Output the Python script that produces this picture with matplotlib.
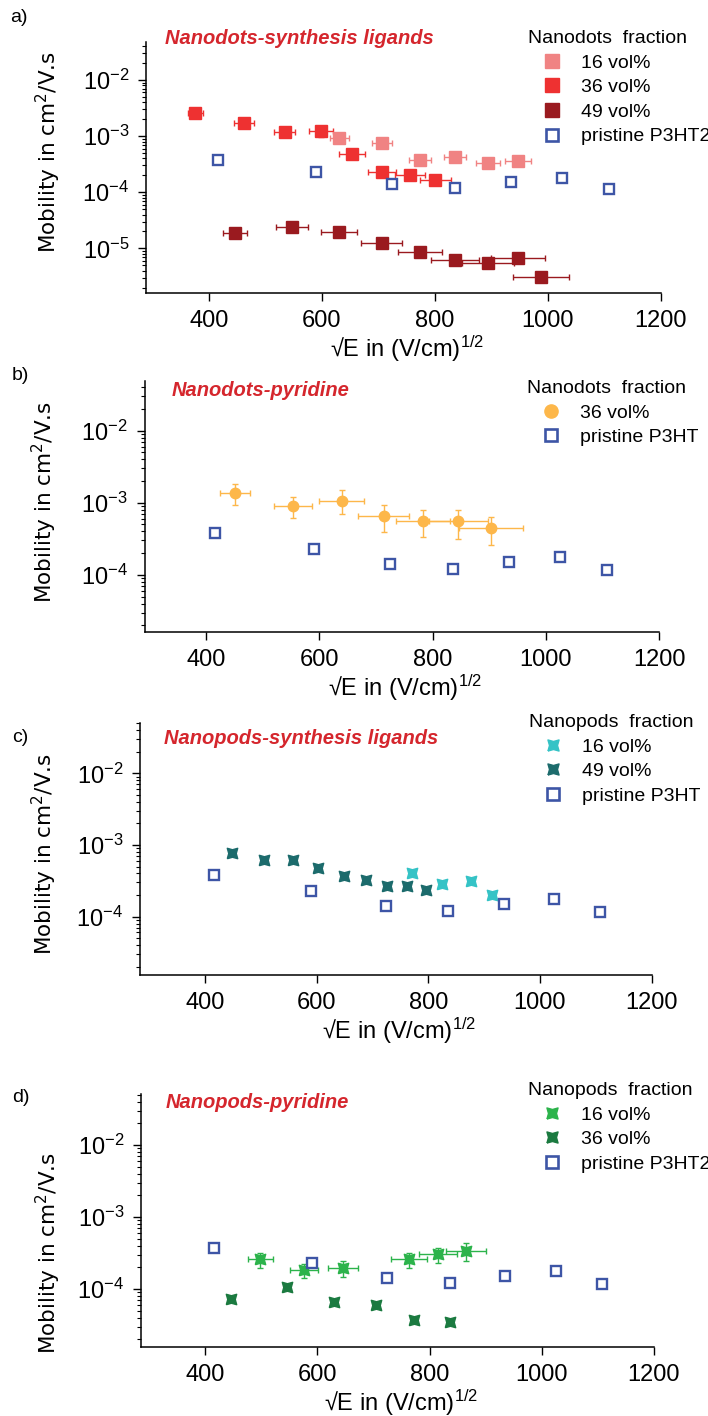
import matplotlib
matplotlib.use("Agg")
import matplotlib.pyplot as plt
from matplotlib.lines import Line2D

plt.rcParams['font.family'] = ['Liberation Sans', 'DejaVu Sans']
plt.rcParams['mathtext.default'] = 'regular'

W, H = 708, 1416

# pristine P3HT reference, same in all four panels
pristine_x = [416, 590, 724, 836, 935, 1025, 1108]
pristine_y = [3.75e-4, 2.29e-4, 1.42e-4, 1.2e-4, 1.52e-4, 1.77e-4, 1.16e-4]

# a) nanodots, synthesis ligands
a16_x = [631, 706, 774, 836, 894, 948]
a16_y = [9.4e-4, 7.4e-4, 3.75e-4, 4.3e-4, 3.36e-4, 3.65e-4]
a16_xerr = [17, 18, 19, 20, 21, 23]
a36_x = [376, 462, 534, 598, 654, 706, 756, 801]
a36_y = [2.55e-3, 1.69e-3, 1.2e-3, 1.23e-3, 4.73e-4, 2.32e-4, 2.05e-4, 1.65e-4]
a36_ylo = [2.3e-3, 1.5e-3, 1.07e-3, 9.8e-4, 4.2e-4, 2.1e-4, 1.85e-4, 1.5e-4]
a36_yhi = [2.85e-3, 1.9e-3, 1.35e-3, 1.4e-3, 5.3e-4, 2.55e-4, 2.25e-4, 1.8e-4]
a36_xerr = [14, 17, 19, 21, 23, 25, 27, 28]
a49_x = [446, 547, 631, 706, 774, 836, 894, 948, 988]
a49_y = [1.85e-5, 2.43e-5, 1.98e-5, 1.26e-5, 8.7e-6, 6.2e-6, 5.4e-6, 6.6e-6, 3.1e-6]
a49_ylo = [1.5e-5, 2.0e-5, 1.65e-5, 1.05e-5, 7.2e-6, 5.1e-6, 4.5e-6, 5.5e-6, 2.6e-6]
a49_yhi = [2.2e-5, 2.9e-5, 2.35e-5, 1.5e-5, 1.05e-5, 7.5e-6, 6.5e-6, 7.9e-6, 3.6e-6]
a49_xerr = [22, 28, 32, 36, 39, 42, 46, 48, 49]

# b) nanodots, pyridine
b36_x = [451, 553, 639, 714, 783, 845, 903]
b36_y = [1.35e-3, 9.1e-4, 1.07e-3, 6.6e-4, 5.5e-4, 5.6e-4, 4.5e-4]
b36_ylo = [9.2e-4, 6.1e-4, 6.9e-4, 3.9e-4, 3.3e-4, 3.1e-4, 2.6e-4]
b36_yhi = [1.79e-3, 1.2e-3, 1.48e-3, 9.4e-4, 7.8e-4, 8.0e-4, 6.4e-4]
b36_xerr = [27, 34, 39, 45, 48, 52, 56]

# c) nanopods, synthesis ligands
c16_x = [771, 825, 876, 914]
c16_y = [4.0e-4, 2.83e-4, 3.15e-4, 2.0e-4]
c49_x = [448, 505, 558, 603, 649, 688, 726, 761, 795]
c49_y = [7.65e-4, 6.18e-4, 6.1e-4, 4.83e-4, 3.73e-4, 3.21e-4, 2.71e-4, 2.68e-4, 2.35e-4]

# d) nanopods, pyridine
d16_x = [498, 576, 645, 763, 815, 865]
d16_y = [2.61e-4, 1.84e-4, 1.98e-4, 2.64e-4, 3.06e-4, 3.37e-4]
d16_ylo = [1.98e-4, 1.41e-4, 1.48e-4, 1.98e-4, 2.3e-4, 2.48e-4]
d16_yhi = [3.2e-4, 2.2e-4, 2.45e-4, 3.2e-4, 3.75e-4, 4.3e-4]
d16_xerr = [22, 25, 27, 32, 34, 36]
d36_x = [446, 546, 630, 705, 773, 836]
d36_y = [7.3e-5, 1.05e-4, 6.5e-5, 6.0e-5, 3.7e-5, 3.5e-5]

blue = '#3d55a6'
red_title = '#d5262d'
# hourglass-ish marker (square with pinched sides)
k = 0.72
pod = [(-1, -1), (0, -k), (1, -1), (k, 0), (1, 1), (0, k), (-1, 1), (-k, 0), (-1, -1)]

fig = plt.figure(figsize=(W / 100, H / 100), dpi=100)


def yerr(y, lo, hi):
    return [[a - b for a, b in zip(y, lo)], [b - a for a, b in zip(y, hi)]]


def make_ax(l, r, t, b, xlim, ylim):
    ax = fig.add_axes([l / W, 1 - b / H, (r - l) / W, (b - t) / H])
    ax.set_yscale('log')
    ax.set_xlim(*xlim)
    ax.set_ylim(*ylim)
    ax.set_xticks([400, 600, 800, 1000, 1200])
    ax.spines['top'].set_visible(False)
    ax.spines['right'].set_visible(False)
    for s in ['left', 'bottom']:
        ax.spines[s].set_linewidth(1.1)
    ax.tick_params(which='major', length=6, width=1.0, labelsize=17, pad=6)
    ax.tick_params(which='minor', length=3, width=0.8)
    ax.set_ylabel('Mobility in cm$^{2}$/V.s', fontsize=15.5, family='DejaVu Sans')
    ax.set_xlabel('√E in (V/cm)$^{1/2}$', fontsize=17)
    ax.plot(pristine_x, pristine_y, ls='none', marker='s', ms=6.8, mfc='white',
            mec=blue, mew=1.7, zorder=4)
    return ax


def legend(ax, x0, ytop, title, entries):
    handles = [Line2D([], [], ls='none', **kw) for kw in entries]
    labs = [h.get_label() for h in handles]
    ax.legend(handles, labs, title=title, loc='upper left',
              bbox_to_anchor=(x0 / W, 1 - ytop / H), bbox_transform=fig.transFigure,
              frameon=False, fontsize=14, title_fontsize=14, alignment='left',
              borderpad=0, borderaxespad=0, handlelength=2.5, handletextpad=0.25,
              labelspacing=0.36)


def title(x, y, s):
    fig.text(x / W, 1 - y / H, s, color=red_title, fontsize=14.5,
             fontweight='bold', fontstyle='italic', va='center')


def letter(x, y, s):
    fig.text(x / W, 1 - y / H, s, fontsize=14, va='center')


pristine_entry = dict(marker='s', ms=8, mfc='white', mec=blue, mew=1.9)

# ---------- a ----------
ax = make_ax(145.8, 660.5, 41.7, 293.3, (288, 1200), (1.58e-6, 0.048))
c16a, c36a, c49a = '#f08383', '#ee3131', '#9a1a1f'
ax.errorbar(a16_x, a16_y, xerr=a16_xerr, fmt='s', color=c16a, ms=8,
            elinewidth=1, capsize=2, zorder=3)
ax.errorbar(a36_x, a36_y, xerr=a36_xerr, yerr=yerr(a36_y, a36_ylo, a36_yhi),
            fmt='s', color=c36a, ms=8, elinewidth=1, capsize=2, zorder=3)
ax.errorbar(a49_x, a49_y, xerr=a49_xerr, yerr=yerr(a49_y, a49_ylo, a49_yhi),
            fmt='s', color=c49a, ms=8, elinewidth=1, capsize=2, zorder=3)
ax.yaxis.set_label_coords(-0.161, 0.56)
ax.xaxis.set_label_coords(0.507, -0.16)
legend(ax, 528, 30, 'Nanodots  fraction',
       [dict(marker='s', ms=9.5, color=c16a, label='16 vol%'),
        dict(marker='s', ms=9.5, color=c36a, label='36 vol%'),
        dict(marker='s', ms=9.5, color=c49a, label='49 vol%'),
        dict(label='pristine P3HT2', **pristine_entry)])
title(165, 39, 'Nanodots-synthesis ligands')
letter(10, 17, 'a)')

# ---------- b ----------
ax = make_ax(144.5, 659.1, 380.7, 632.3, (291, 1200), (1.6e-5, 0.049))
cb = '#fdb74a'
ax.errorbar(b36_x, b36_y, xerr=b36_xerr, yerr=yerr(b36_y, b36_ylo, b36_yhi),
            fmt='o', color=cb, ms=7.5, elinewidth=1, capsize=2, zorder=3)
ax.yaxis.set_label_coords(-0.166, 0.518)
ax.xaxis.set_label_coords(0.507, -0.16)
legend(ax, 527, 380, 'Nanodots  fraction',
       [dict(marker='o', ms=9.5, color=cb, label='36 vol%'),
        dict(label='pristine P3HT', **pristine_entry)])
title(172, 390, 'Nanodots-pyridine')
letter(12, 376, 'b)')

# ---------- c ----------
ax = make_ax(140, 651.5, 722.7, 975, (283, 1200), (1.53e-5, 0.051))
c16c, c49c = '#35c3c6', '#1c6b6c'
ax.plot(c16_x, c16_y, ls='none', marker=pod, ms=7.5, color=c16c, zorder=3)
ax.plot(c49_x, c49_y, ls='none', marker=pod, ms=7.5, color=c49c, zorder=3)
ax.yaxis.set_label_coords(-0.159, 0.48)
ax.xaxis.set_label_coords(0.507, -0.16)
legend(ax, 529, 714, 'Nanopods  fraction',
       [dict(marker=pod, ms=8, color=c16c, label='16 vol%'),
        dict(marker=pod, ms=8, color=c49c, label='49 vol%'),
        dict(label='pristine P3HT', **pristine_entry)])
title(164, 738, 'Nanopods-synthesis ligands')
letter(12, 737, 'c)')

# ---------- d ----------
ax = make_ax(140.9, 653.7, 1094, 1347.3, (285, 1200), (1.55e-5, 0.051))
c16d, c36d = '#2cb34b', '#1b7a40'
ax.errorbar(d16_x, d16_y, xerr=d16_xerr, yerr=yerr(d16_y, d16_ylo, d16_yhi),
            fmt='none', ecolor=c16d, elinewidth=1, capsize=2, zorder=3)
ax.plot(d16_x, d16_y, ls='none', marker=pod, ms=7.5, color=c16d, zorder=3)
ax.plot(d36_x, d36_y, ls='none', marker=pod, ms=7.5, color=c36d, zorder=3)
ax.yaxis.set_label_coords(-0.152, 0.37)
ax.xaxis.set_label_coords(0.507, -0.16)
legend(ax, 528, 1082, 'Nanopods  fraction',
       [dict(marker=pod, ms=8, color=c16d, label='16 vol%'),
        dict(marker=pod, ms=8, color=c36d, label='36 vol%'),
        dict(label='pristine P3HT2', **pristine_entry)])
title(166, 1102, 'Nanopods-pyridine')
letter(12, 1097, 'd)')

fig.savefig('out.png', dpi=100)
